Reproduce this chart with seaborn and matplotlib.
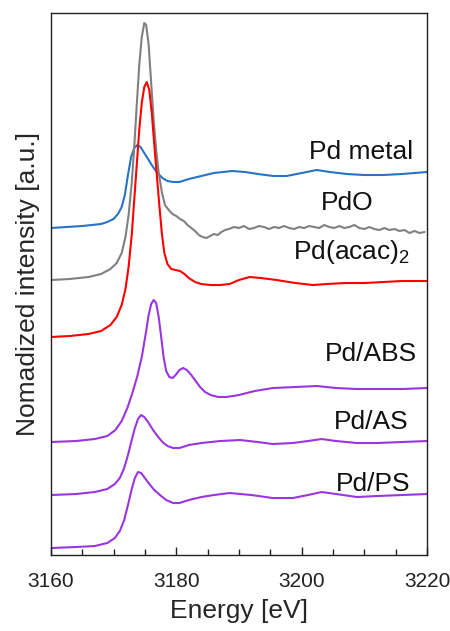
import numpy as np
import pandas as pd
import matplotlib
matplotlib.use("Agg")
import matplotlib.pyplot as plt
import seaborn as sns

# -----------------------------------------------------------
# DATA (offsets already included)

e_metal = [3160, 3165, 3168, 3169, 3170, 3170.7, 3171.3, 3171.8, 3172.3, 3172.8, 3173.3, 3173.8,
           3174.3, 3175, 3175.7, 3176.3, 3177, 3177.8, 3178.6, 3179.5, 3180.5, 3182, 3184, 3186,
           3188.9, 3191, 3193, 3195.5, 3197.6, 3200, 3202.4, 3204.5, 3207.2, 3210, 3213, 3216, 3220]
i_metal = [3.27, 3.29, 3.31, 3.33, 3.36, 3.41, 3.48, 3.60, 3.80, 3.98, 4.07, 4.10,
           4.08, 4.01, 3.94, 3.88, 3.82, 3.77, 3.74, 3.73, 3.73, 3.76, 3.79, 3.82,
           3.84, 3.83, 3.81, 3.79, 3.79, 3.82, 3.85, 3.83, 3.81, 3.80, 3.80, 3.81, 3.83]

e_pdo = [3160, 3163, 3166, 3168, 3169.5, 3170.5, 3171.3, 3171.9, 3172.4, 3172.9, 3173.3, 3173.7,
         3174.1, 3174.5, 3174.9, 3175.2, 3175.6, 3176.0, 3176.4, 3176.8, 3177.2, 3177.7, 3178.2,
         3178.8, 3179.4, 3180, 3180.6, 3181.2, 3181.8, 3182.4, 3183, 3183.6, 3184.2, 3184.8,
         3185.4, 3186, 3186.6, 3187.2, 3187.8,
         3188.4, 3189.2, 3190.0, 3190.8, 3191.6, 3192.4, 3193.2, 3194.0, 3194.8, 3195.6,
         3196.4, 3197.2, 3198.0, 3198.8, 3199.6, 3200.4, 3201.2, 3202.0, 3202.8, 3203.6,
         3204.4, 3205.2, 3206.0, 3206.8, 3207.6, 3208.4, 3209.2, 3210.0, 3210.8, 3211.6,
         3212.4, 3213.2, 3214.0, 3214.8, 3215.6, 3216.4, 3217.2, 3218.0, 3218.8, 3219.6]
i_pdo = [2.75, 2.76, 2.78, 2.81, 2.86, 2.92, 3.02, 3.18, 3.40, 3.72, 4.08, 4.50,
         4.90, 5.18, 5.32, 5.30, 5.10, 4.72, 4.35, 4.05, 3.82, 3.63, 3.50,
         3.45, 3.41, 3.39, 3.36, 3.34, 3.30, 3.27, 3.24, 3.20, 3.18, 3.17,
         3.19, 3.21, 3.20, 3.23, 3.25,
         3.26, 3.28, 3.27, 3.29, 3.26, 3.27, 3.29, 3.28, 3.26, 3.28,
         3.27, 3.29, 3.27, 3.26, 3.28, 3.27, 3.29, 3.28, 3.27, 3.30,
         3.28, 3.27, 3.29, 3.27, 3.28, 3.30, 3.27, 3.26, 3.28, 3.26,
         3.25, 3.27, 3.25, 3.26, 3.24, 3.25, 3.22, 3.24, 3.22, 3.23]

e_acac = [3160, 3163, 3166, 3168, 3169.5, 3170.5, 3171.3, 3171.9, 3172.4, 3172.9, 3173.3, 3173.7,
          3174.1, 3174.5, 3174.9, 3175.3, 3175.7, 3176.1, 3176.5, 3176.9, 3177.3, 3177.7, 3178.1,
          3178.6, 3179.2, 3179.9, 3180.6, 3181.3, 3182, 3183, 3184, 3185.5, 3187, 3188.5, 3190,
          3191.7, 3193.5, 3196, 3199, 3201.8, 3204, 3207, 3210, 3213, 3216, 3220]
i_acac = [2.18, 2.19, 2.21, 2.24, 2.30, 2.38, 2.50, 2.66, 2.88, 3.20, 3.55, 3.90,
          4.25, 4.52, 4.68, 4.73, 4.65, 4.42, 4.10, 3.80, 3.50, 3.22, 3.02,
          2.91, 2.86, 2.85, 2.84, 2.81, 2.77, 2.73, 2.71, 2.70, 2.70, 2.71, 2.75,
          2.78, 2.77, 2.75, 2.72, 2.70, 2.71, 2.72, 2.72, 2.73, 2.74, 2.74]

e_abs = [3160, 3164, 3167, 3169, 3170.3, 3171.3, 3172.2, 3173, 3173.8, 3174.5, 3175.1, 3175.6,
         3176.0, 3176.4, 3176.8, 3177.2, 3177.6, 3178.0, 3178.4, 3178.9, 3179.4, 3179.9, 3180.5,
         3181.1, 3181.7, 3182.4, 3183.1, 3183.8, 3184.6, 3185.5, 3186.7, 3188, 3190, 3192.5,
         3195.4, 3199, 3202.4, 3205.5, 3208.8, 3212, 3216, 3220]
i_abs = [1.13, 1.14, 1.16, 1.19, 1.25, 1.34, 1.47, 1.62, 1.79, 1.98, 2.20, 2.40,
         2.51, 2.55, 2.52, 2.38, 2.18, 1.97, 1.84, 1.78, 1.77, 1.80, 1.85,
         1.87, 1.85, 1.80, 1.74, 1.68, 1.63, 1.60, 1.58, 1.58, 1.60, 1.64,
         1.67, 1.68, 1.69, 1.67, 1.66, 1.66, 1.66, 1.67]

e_as = [3160, 3164, 3167, 3169, 3170.2, 3171.0, 3171.7, 3172.3, 3172.9, 3173.4, 3173.9, 3174.4,
        3174.9, 3175.5, 3176.2, 3177, 3177.8, 3178.6, 3179.5, 3180.5, 3182, 3184, 3187, 3190.2,
        3193, 3195.4, 3198.6, 3201, 3203.2, 3205.5, 3208.8, 3212, 3216, 3220]
i_as = [0.60, 0.61, 0.63, 0.66, 0.71, 0.77, 0.87, 1.00, 1.15, 1.27, 1.36, 1.40,
        1.38, 1.33, 1.26, 1.19, 1.13, 1.09, 1.07, 1.07, 1.10, 1.12, 1.14, 1.15,
        1.13, 1.11, 1.12, 1.14, 1.16, 1.14, 1.12, 1.12, 1.13, 1.14]

e_ps = [3160, 3164, 3167, 3169, 3170.2, 3171, 3171.7, 3172.3, 3172.9, 3173.4, 3173.9, 3174.4,
        3175, 3175.7, 3176.5, 3177.4, 3178.4, 3179.5, 3180.5, 3182, 3184, 3186, 3188.5, 3192,
        3195.4, 3198.6, 3201, 3203.2, 3205.5, 3208.8, 3212, 3216, 3220]
i_ps = [0.07, 0.08, 0.09, 0.12, 0.17, 0.24, 0.35, 0.50, 0.66, 0.77, 0.83, 0.82,
        0.77, 0.71, 0.65, 0.60, 0.55, 0.52, 0.52, 0.55, 0.58, 0.60, 0.62, 0.60,
        0.57, 0.57, 0.60, 0.63, 0.61, 0.58, 0.59, 0.60, 0.61]

names = ["Pd metal", "PdO", "Pd(acac)$_2$", "Pd/ABS", "Pd/AS", "Pd/PS"]
colors = ["#2a73c4", "#808080", "#ff0000", "#9a35e0", "#9a35e0", "#9a35e0"]
energies = [e_metal, e_pdo, e_acac, e_abs, e_as, e_ps]
intensities = [i_metal, i_pdo, i_acac, i_abs, i_as, i_ps]

# label anchors (x, y, horizontal alignment)
label_x = [3217.7, 3207.2, 3217.3, 3218.4, 3217.1, 3217.4]
label_y = [4.03, 3.52, 3.03, 2.01, 1.33, 0.71]
label_ha = ["right", "center", "right", "right", "right", "right"]

# -----------------------------------------------------------
# PLOT

sns.set_style("white")
plt.rcParams["font.family"] = ["Liberation Sans", "DejaVu Sans"]
plt.rcParams["mathtext.fontset"] = "custom"
plt.rcParams["mathtext.rm"] = "Liberation Sans"
plt.rcParams["mathtext.default"] = "regular"

fig = plt.figure(figsize=(4.5, 6.31), dpi=100)
ax = fig.add_axes([0.113, 0.1204, 0.836, 0.859])

for e, i, c in zip(energies, intensities, colors):
    df = pd.DataFrame({"energy": e, "intensity": i})
    sns.lineplot(data=df, x="energy", y="intensity", color=c, lw=1.5, sort=False, ax=ax,
                 solid_joinstyle="round", solid_capstyle="round")

for name, x, y, ha in zip(names, label_x, label_y, label_ha):
    ax.text(x, y, name, ha=ha, va="center", fontsize=19, color="#111111")

ax.set_xlim(3160, 3220)
ax.set_ylim(0, 5.42)
ax.set_xticks([3160, 3180, 3200, 3220])
ax.set_xticks(np.arange(3160, 3221, 5), minor=True)
ax.set_yticks([])
ax.tick_params(axis="x", which="major", direction="in", length=6, width=1, labelsize=15, pad=12,
               bottom=True, colors="#222222")
ax.tick_params(axis="x", which="minor", direction="in", length=4, width=1, bottom=True, colors="#222222")
ax.set_xlabel("Energy [eV]", fontsize=19, labelpad=6)
ax.set_ylabel("Nomadized intensity [a.u.]", fontsize=19, labelpad=8)
for s in ax.spines.values():
    s.set_color("#222222")
    s.set_linewidth(1.0)

fig.savefig("out.png", dpi=100)
